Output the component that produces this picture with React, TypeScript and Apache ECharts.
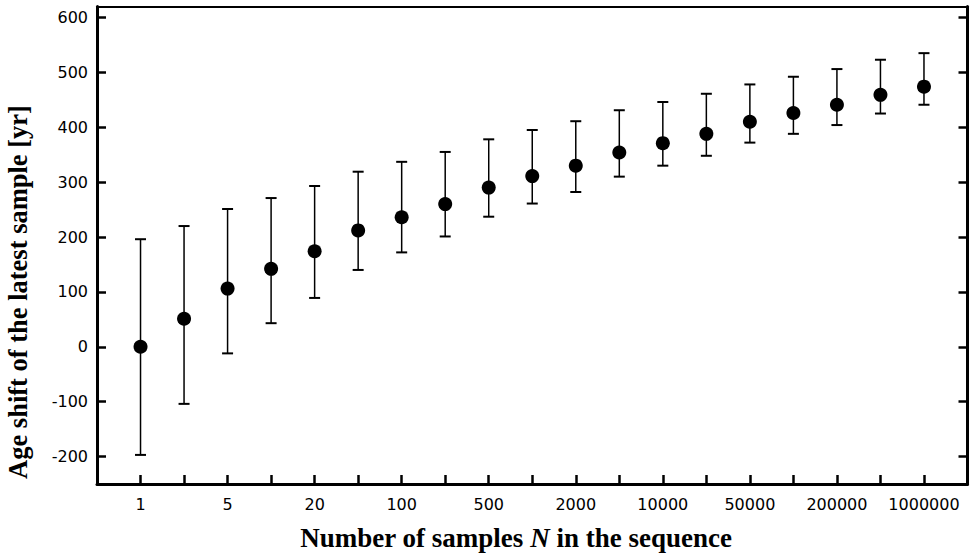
import React, { useEffect, useRef } from "react";
import * as echarts from "echarts";

const nValues = [1, 2, 5, 10, 20, 50, 100, 200, 500, 1000, 2000, 5000, 10000, 20000, 50000, 100000, 200000, 500000, 1000000];
const meanShift = [0, 51, 106, 142, 174, 212, 236, 260, 290, 311, 330, 354, 371, 388, 410, 426, 441, 459, 474];
const upperShift = [196, 220, 251, 271, 293, 319, 337, 355, 378, 395, 411, 431, 446, 461, 478, 492, 506, 523, 535];
const lowerShift = [-197, -104, -12, 43, 89, 140, 172, 201, 237, 261, 282, 310, 330, 348, 372, 388, 404, 425, 441];
const xTickLabels = ["1", "5", "20", "100", "500", "2000", "10000", "50000", "200000", "1000000"];
const yTicks = [-200, -100, 0, 100, 200, 300, 400, 500, 600];

const yTitle = "Age shift of the latest sample [yr]";

export default function App() {
  const ref = useRef<HTMLDivElement>(null);
  useEffect(() => {
    if (!ref.current) return;
    const chart = echarts.init(ref.current, null, { renderer: "svg" });
    const idx = nValues.map((_, i) => i);
    const labelIdx = idx.filter((i) => i % 2 === 0);
    const labelMap: Record<number, string> = {};
    labelIdx.forEach((i, k) => (labelMap[i] = xTickLabels[k]));
    const tickFont = { fontFamily: "DejaVu Sans", fontSize: 16, color: "#000" };

    chart.setOption({
      animation: false,
      grid: { left: 97, right: 4.5, top: 6.5, bottom: 72, containLabel: false },
      xAxis: [
        {
          type: "value",
          min: -1,
          max: 19,
          position: "bottom",
          axisLine: { show: true, onZero: false, lineStyle: { color: "#000", width: 3 } },
          axisTick: { show: true, inside: true, length: 9, customValues: idx, lineStyle: { color: "#000", width: 2.5 } },
          axisLabel: {
            show: true,
            customValues: labelIdx,
            margin: 12,
            formatter: (v: number) => labelMap[Math.round(v)] ?? "",
            ...tickFont,
          },
          splitLine: { show: false },
        },
        {
          type: "value",
          min: -1,
          max: 19,
          position: "top",
          axisLine: { show: true, onZero: false, lineStyle: { color: "#000", width: 2 } },
          axisTick: { show: false },
          axisLabel: { show: false },
          splitLine: { show: false },
        },
      ],
      yAxis: [
        {
          type: "value",
          min: -250,
          max: 620,
          position: "left",
          axisLine: { show: true, onZero: false, lineStyle: { color: "#000", width: 3 } },
          axisTick: { show: true, inside: true, length: 9, customValues: yTicks, lineStyle: { color: "#000", width: 2.5 } },
          axisLabel: { show: true, customValues: yTicks, margin: 9, ...tickFont },
          splitLine: { show: false },
        },
        {
          type: "value",
          min: -250,
          max: 620,
          position: "right",
          axisLine: { show: true, onZero: false, lineStyle: { color: "#000", width: 3 } },
          axisTick: { show: true, inside: true, length: 9, customValues: yTicks, lineStyle: { color: "#000", width: 2.5 } },
          axisLabel: { show: false },
          splitLine: { show: false },
        },
      ],
      series: [
        {
          type: "custom",
          xAxisIndex: 0,
          yAxisIndex: 0,
          encode: { x: 0, y: [1, 2] },
          data: idx.map((i) => [i, lowerShift[i], upperShift[i]]),
          renderItem: (params: any, api: any) => {
            const x = api.value(0);
            const lo = api.coord([x, api.value(1)]);
            const hi = api.coord([x, api.value(2)]);
            const hw = 5.5;
            const style = { stroke: "#000", lineWidth: 1.5 };
            const capStyle = { stroke: "#000", lineWidth: 2 };
            return {
              type: "group",
              children: [
                { type: "line", shape: { x1: lo[0], y1: lo[1], x2: hi[0], y2: hi[1] }, style },
                { type: "line", shape: { x1: lo[0] - hw, y1: lo[1], x2: lo[0] + hw, y2: lo[1] }, style: capStyle },
                { type: "line", shape: { x1: hi[0] - hw, y1: hi[1], x2: hi[0] + hw, y2: hi[1] }, style: capStyle },
              ],
            };
          },
          z: 2,
        },
        {
          type: "scatter",
          xAxisIndex: 0,
          yAxisIndex: 0,
          symbol: "circle",
          symbolSize: 14,
          itemStyle: { color: "#000", opacity: 1 },
          data: idx.map((i) => [i, meanShift[i]]),
          z: 3,
        },
      ],
      graphic: [
        {
          type: "text",
          x: 516,
          y: 538,
          style: {
            text: "{b|Number of samples }{i|N}{b| in the sequence}",
            align: "center",
            verticalAlign: "middle",
            rich: {
              b: { fontFamily: "Liberation Serif", fontWeight: "bold", fontSize: 27, fill: "#000", color: "#000" },
              i: { fontFamily: "Liberation Serif", fontWeight: "bold", fontStyle: "italic", fontSize: 27, fill: "#000", color: "#000" },
            },
          },
        },
        {
          type: "text",
          x: 18,
          y: 292,
          rotation: Math.PI / 2,
          style: {
            text: yTitle,
            align: "center",
            verticalAlign: "middle",
            fontFamily: "Liberation Serif",
            fontWeight: "bold",
            fontSize: 26.5,
            fill: "#000",
          },
        },
      ],
    });
    return () => chart.dispose();
  }, []);
  return <div ref={ref} style={{ width: 972, height: 556, position: "absolute", left: 0, top: 0 }} />;
}
